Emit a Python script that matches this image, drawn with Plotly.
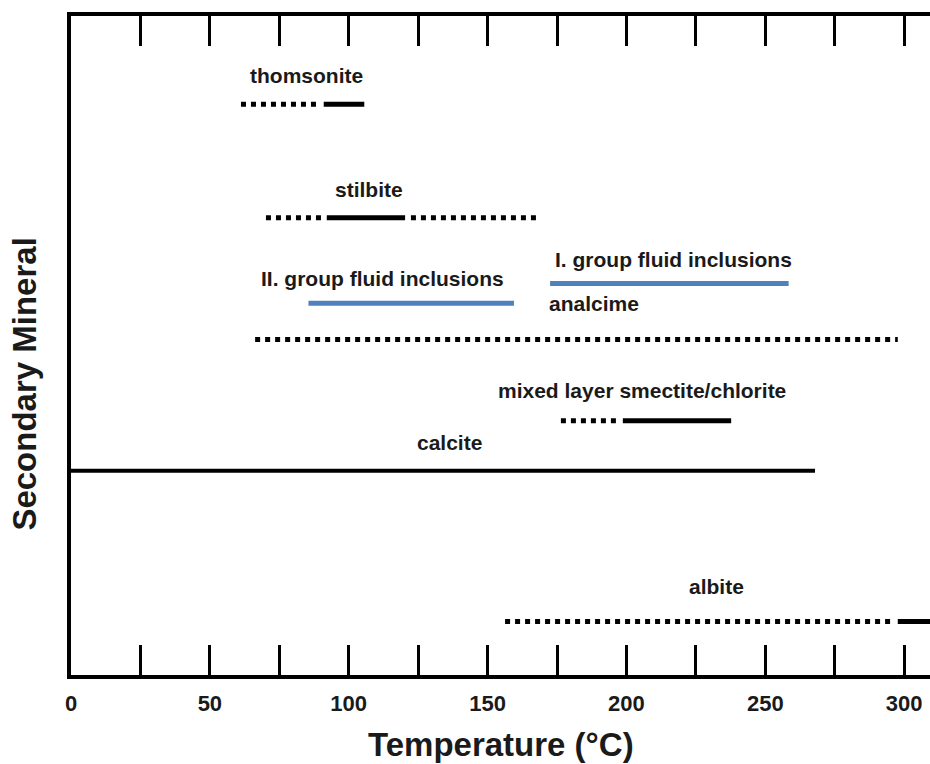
import plotly.graph_objects as go

# ---- data (temperatures in °C) ----
minerals = ["thomsonite", "stilbite", "analcime", "mixed layer smectite/chlorite", "calcite", "albite"]
# dotted (possible) ranges: list of (start, end) per mineral
dotted_ranges = [
    [(61.2, 89.3)],
    [(70.2, 90.6), (122.4, 168.5)],
    [(66.3, 297.7)],
    [(176.4, 196.9)],
    [],
    [(156.3, 296.4)],
]
# solid (confirmed) ranges
solid_ranges = [
    [(91.0, 105.6)],
    [(92.1, 120.3)],
    [],
    [(198.7, 237.7)],
    [(0.0, 267.9)],
    [(297.7, 320.0)],
]
fluid_groups = ["I. group fluid inclusions", "II. group fluid inclusions"]
fluid_ranges = [(172.5, 258.4), (85.5, 159.5)]

tick_values = list(range(0, 301, 25))
tick_labels = [str(v) if v % 50 == 0 else "" for v in tick_values]

# ---- layout positions (row heights on a 0-100 vertical scale) ----
mineral_rows = [86.6, 69.4, 50.9, 38.6, 31.0, 8.1]
fluid_rows = [59.4, 56.4]
mineral_label_pos = [(84.9, 91.0), (107.2, 73.7), (188.3, 56.4), (205.6, 43.1), (136.3, 35.3), (232.6, 13.5)]
fluid_label_pos = [(217.1, 63.1), (112.0, 60.2)]

FONT = "Liberation Sans, Arial, sans-serif"
fig = go.Figure()

for name, row, dots, solids in zip(minerals, mineral_rows, dotted_ranges, solid_ranges):
    for a, b in dots:
        fig.add_trace(go.Scatter(x=[a, b], y=[row, row], mode="lines",
                                 line=dict(color="black", width=5, dash="5px,5px"),
                                 showlegend=False, hoverinfo="skip"))
    for a, b in solids:
        w = 4 if name == "calcite" else 5
        fig.add_trace(go.Scatter(x=[a, b], y=[row, row], mode="lines",
                                 line=dict(color="black", width=w),
                                 showlegend=False, hoverinfo="skip"))

for name, row, (a, b) in zip(fluid_groups, fluid_rows, fluid_ranges):
    fig.add_trace(go.Scatter(x=[a, b], y=[row, row], mode="lines",
                             line=dict(color="#4F81BD", width=5),
                             showlegend=False, hoverinfo="skip"))

label_font = dict(family=FONT, size=21, color="#1a1a1a", weight="bold")
for name, (lx, ly) in zip(minerals, mineral_label_pos):
    fig.add_annotation(x=lx, y=ly, text=name, showarrow=False, font=label_font,
                       xanchor="center", yanchor="middle")
for name, (lx, ly) in zip(fluid_groups, fluid_label_pos):
    fig.add_annotation(x=lx, y=ly, text=name, showarrow=False, font=label_font,
                       xanchor="center", yanchor="middle")

# axis titles
fig.add_annotation(xref="paper", yref="paper", x=0.5, y=-0.1062, text="Temperature (°C)",
                   showarrow=False, xanchor="center", yanchor="middle",
                   font=dict(family=FONT, size=33, color="#1a1a1a", weight="bold"))
fig.add_annotation(xref="paper", yref="paper", x=-0.054, y=0.4416, text="Secondary Mineral",
                   showarrow=False, xanchor="center", yanchor="middle", textangle=-90,
                   font=dict(family=FONT, size=33, color="#1a1a1a", weight="bold"))

fig.update_layout(
    width=930, height=764,
    margin=dict(l=71, r=0, t=16, b=89),
    paper_bgcolor="white", plot_bgcolor="white",
    showlegend=False,
    xaxis=dict(range=[0, 309.3], tickmode="array", tickvals=tick_values, ticktext=tick_labels,
               ticks="inside", ticklen=30, tickwidth=3, tickcolor="black",
               showline=True, linewidth=4, linecolor="black", mirror="ticks",
               showgrid=False, zeroline=False,
               tickfont=dict(family=FONT, size=22, color="#1a1a1a", weight="bold"),
               ticklabelstandoff=6),
    yaxis=dict(range=[0, 100], showticklabels=False, ticks="", showgrid=False, zeroline=False,
               showline=True, linewidth=4, linecolor="black"),
)

fig.write_html("out.html", config={"displayModeBar": False},
               post_script="document.body.style.margin='0';document.body.style.overflow='hidden';")
